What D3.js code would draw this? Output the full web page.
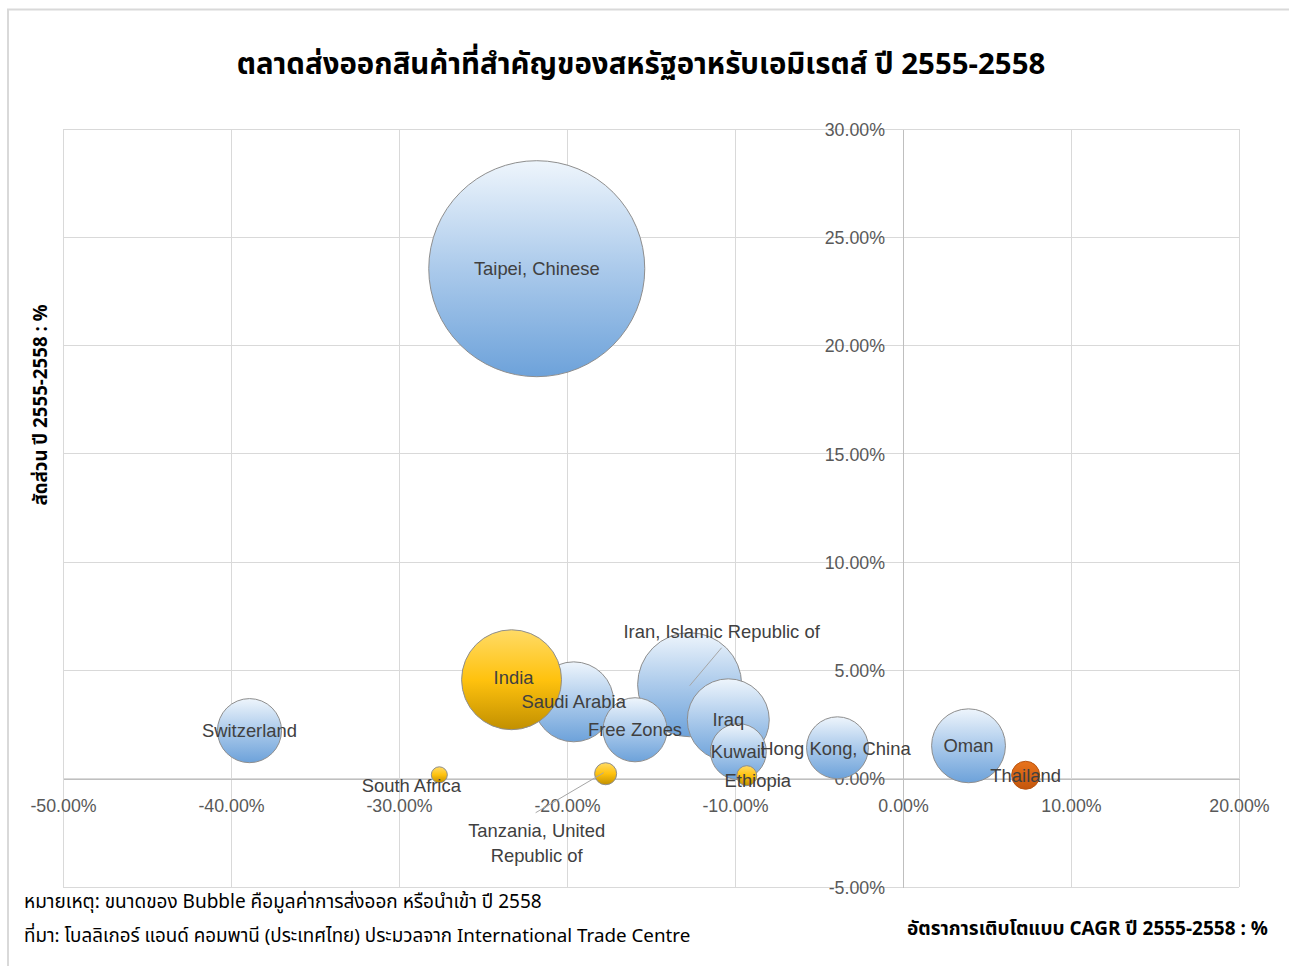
<!DOCTYPE html>
<html><head><meta charset="utf-8">
<script src="https://cdn.jsdelivr.net/npm/d3@7"></script>
<style>
html,body{margin:0;padding:0;background:#fff;}
svg{display:block;}
</style></head>
<body>
<svg id="chart" width="1289" height="966"></svg>
<script>
// ---- data ----
const countries = ["Taipei, Chinese","India","Saudi Arabia","Free Zones","Iran, Islamic Republic of","Iraq","Kuwait","Ethiopia","Tanzania, United Republic of","South Africa","Switzerland","Hong Kong, China","Oman","Thailand"];
const cagr      = [-21.8, -23.3, -19.6, -15.95, -12.7, -10.4, -9.8, -9.3, -17.7, -27.6, -38.9, -3.9, 3.9, 7.3]; // %
const share     = [23.55, 4.57, 3.55, 2.26, 4.34, 2.72, 1.25, 0.14, 0.23, 0.18, 2.22, 1.43, 1.52, 0.16]; // %
const exportValue = [100, 21.4, 13.7, 8.8, 23.2, 14.4, 6.7, 0.86, 1.04, 0.55, 8.8, 8.2, 11.7, 1.68];
const group     = ["A","B","A","A","A","A","A","B","B","B","A","A","A","C"];
const xTicks = [-50,-40,-30,-20,-10,0,10,20];
const yTicks = [-5,0,5,10,15,20,25,30];

const title = "ตลาดส่งออกสินค้าที่สำคัญของสหรัฐอาหรับเอมิเรตส์ ปี 2555-2558";
const xTitle = "อัตราการเติบโตแบบ CAGR ปี 2555-2558 : %";
const yTitle = "สัดส่วน ปี 2555-2558 : %";
const note1 = "หมายเหตุ: ขนาดของ Bubble คือมูลค่าการส่งออก หรือนำเข้า ปี 2558";
const note2 = "ที่มา: โบลลิเกอร์ แอนด์ คอมพานี (ประเทศไทย) ประมวลจาก International Trade Centre";

// label placement (pixel offsets from bubble centre) and leader lines
const labelOffset = {
  "India":[2,-2],
  "Iran, Islamic Republic of":[32,-53],
  "Ethiopia":[11,5],
  "Tanzania, United Republic of":[-69,57],
  "South Africa":[-28,11],
  "Hong Kong, China":[-2,1]
};
const leaders = {
  "Iran, Islamic Republic of":[[0,1],[32,-37]],
  "Tanzania, United Republic of":[[-2,-1],[-70,39]]
};

// ---- layout ----
const svg = d3.select("#chart");
const thaiFont = "'Tahoma','Noto Sans Thai','Liberation Sans','DejaVu Sans',sans-serif";
const labFont = "'Liberation Sans','Noto Sans',sans-serif";

svg.append("rect").attr("x",8).attr("y",9.5).attr("width",1300).attr("height",1000)
   .attr("fill","#fff").attr("stroke","#d9d9d9").attr("stroke-width",2);

const x = d3.scaleLinear().domain([-50,20]).range([63,1239]);
const y = d3.scaleLinear().domain([-5,30]).range([887,129]);
const r = d3.scaleSqrt().domain([0,100]).range([0,108]);

// gradients
const defs = svg.append("defs");
function grad(id, stops){
  const g = defs.append("linearGradient").attr("id",id).attr("x1",0).attr("y1",0).attr("x2",0).attr("y2",1);
  stops.forEach(s=>g.append("stop").attr("offset",s[0]).attr("stop-color",s[1]));
}
grad("gA",[[0,"#eef5fc"],[0.5,"#abcaeb"],[1,"#6da2da"]]);
grad("gB",[[0,"#ffdb66"],[0.5,"#ffc20e"],[1,"#c29000"]]);
grad("gC",[[0,"#e8731c"],[1,"#c4560c"]]);
const fillOf = {A:"url(#gA)",B:"url(#gB)",C:"url(#gC)"};

// gridlines
const grid = svg.append("g");
grid.selectAll("line.v").data(xTicks).join("line").attr("class","v")
  .attr("x1",d=>x(d)).attr("x2",d=>x(d)).attr("y1",y(30)).attr("y2",y(-5))
  .attr("stroke","#d9d9d9").attr("stroke-width",1).attr("shape-rendering","crispEdges");
grid.selectAll("line.h").data(yTicks).join("line").attr("class","h")
  .attr("y1",d=>y(d)).attr("y2",d=>y(d)).attr("x1",x(-50)).attr("x2",x(20))
  .attr("stroke","#d9d9d9").attr("stroke-width",1).attr("shape-rendering","crispEdges");

// axes (crossing at 0)
const fmt = d=>(d<0?"-":"")+Math.abs(d).toFixed(2)+"%";
const xAxis = svg.append("g").attr("transform",`translate(0,${y(0)})`)
  .call(d3.axisBottom(x).tickValues(xTicks).tickFormat(fmt).tickSize(0).tickPadding(21));
const yAxis = svg.append("g").attr("transform",`translate(${x(0)},0)`)
  .call(d3.axisLeft(y).tickValues(yTicks).tickFormat(fmt).tickSize(0).tickPadding(18));
[xAxis,yAxis].forEach(a=>{
  a.select(".domain").attr("stroke","#bfbfbf").attr("shape-rendering","crispEdges");
  a.selectAll("text").attr("fill","#595959").attr("font-size",17.8).attr("font-family",labFont);
});
yAxis.selectAll("text").attr("dy","0.35em");

// bubbles
const data = countries.map((c,i)=>({name:c,x:cagr[i],y:share[i],v:exportValue[i],g:group[i]}));
const order = ["A","B","C"];
const sorted = data.slice().sort((a,b)=> order.indexOf(a.g)-order.indexOf(b.g) || b.v-a.v);
svg.append("g").selectAll("circle").data(sorted).join("circle")
  .attr("cx",d=>x(d.x)).attr("cy",d=>y(d.y)).attr("r",d=>r(d.v))
  .attr("fill",d=>fillOf[d.g]).attr("stroke",d=>d.g==="C"?"#b95410":"#8e8e8e").attr("stroke-width",1);

// leader lines
svg.append("g").selectAll("line").data(data.filter(d=>leaders[d.name])).join("line")
  .attr("x1",d=>x(d.x)+leaders[d.name][0][0]).attr("y1",d=>y(d.y)+leaders[d.name][0][1])
  .attr("x2",d=>x(d.x)+leaders[d.name][1][0]).attr("y2",d=>y(d.y)+leaders[d.name][1][1])
  .attr("stroke","#a6a6a6").attr("stroke-width",1);

// labels
const lab = svg.append("g").attr("font-family",labFont).attr("font-size",18.4).attr("fill","#404040").attr("text-anchor","middle");
data.forEach(d=>{
  const o = labelOffset[d.name]||[0,0];
  const cx = x(d.x)+o[0], cy = y(d.y)+o[1];
  if(d.name.startsWith("Tanzania")){
    lab.append("text").attr("x",cx).attr("y",cy).attr("dy","0.35em").text("Tanzania, United");
    lab.append("text").attr("x",cx).attr("y",cy+25).attr("dy","0.35em").text("Republic of");
  } else {
    lab.append("text").attr("x",cx).attr("y",cy).attr("dy","0.35em").text(d.name);
  }
});

// titles
svg.append("text").attr("x",641).attr("y",64).attr("text-anchor","middle").attr("dy","0.35em")
  .attr("font-family",thaiFont).attr("font-weight","bold").attr("font-size",29.4).attr("fill","#000").text(title);
svg.append("text").attr("transform","translate(40,405) rotate(-90)").attr("text-anchor","middle").attr("dy","0.35em")
  .attr("font-family",thaiFont).attr("font-weight","bold").attr("font-size",18.7).attr("fill","#000").text(yTitle);
svg.append("text").attr("x",1268).attr("y",928).attr("text-anchor","end").attr("dy","0.35em")
  .attr("font-family",thaiFont).attr("font-weight","bold").attr("font-size",19).attr("fill","#000").text(xTitle);
svg.append("text").attr("x",24).attr("y",901).attr("dy","0.35em")
  .attr("font-family",thaiFont).attr("font-size",19).attr("fill","#000").text(note1);
svg.append("text").attr("x",24).attr("y",935).attr("dy","0.35em")
  .attr("font-family",thaiFont).attr("font-size",18.8).attr("fill","#000").text(note2);
</script>
</body></html>
